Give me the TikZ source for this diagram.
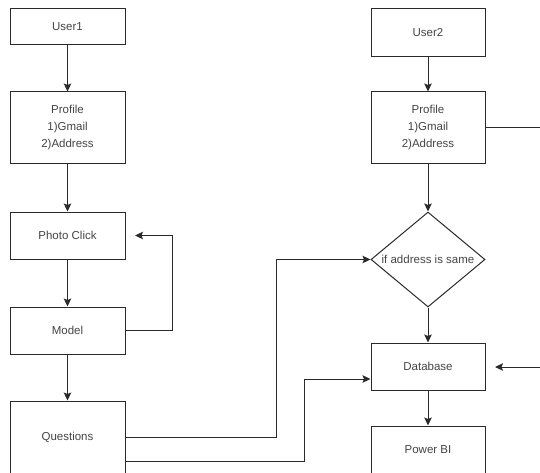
\documentclass[tikz,border=0pt]{standalone}
\usepackage{fontspec}
\setmainfont{Liberation Sans}
\usetikzlibrary{shapes.geometric,arrows.meta,calc}
\definecolor{ln}{HTML}{2A2A2A}
\definecolor{tx}{HTML}{444444}
\tikzset{
  box/.style={draw=ln, line width=1pt, rectangle, minimum width=115pt, inner sep=0pt, align=center, text=tx, font=\fontsize{11.5}{17}\selectfont},
  dia/.style={draw=ln, line width=1pt, diamond, shape aspect=1.2, minimum width=114pt, minimum height=95pt, inner sep=0pt, text=tx, font=\fontsize{11.5}{14}\selectfont},
  conn/.style={draw=ln, line width=1pt, -{Stealth[length=8pt,width=7.5pt,inset=1.5pt]}},
  plain/.style={draw=ln, line width=1pt}
}
\begin{document}
\begin{tikzpicture}[x=1pt,y=-1pt]
\useasboundingbox (0,0) rectangle (540,473);
% left column
\node[box, minimum height=36pt] (u1) at (67.5,27) {User1};
\node[box, minimum height=72pt] (p1) at (67.5,128) {Profile\\1)Gmail\\2)Address};
\node[box, minimum height=47pt] (pc) at (67.5,235.5) {Photo Click};
\node[box, minimum height=47pt] (m) at (67.5,330.5) {Model};
\node[box, minimum height=73pt] (q) at (67.5,437.5) {Questions};
% right column
\node[box, minimum height=48pt, minimum width=114pt] (u2) at (428,33) {User2};
\node[box, minimum height=72pt, minimum width=114pt] (p2) at (428,128) {Profile\\1)Gmail\\2)Address};
\node[dia] (d) at (428,259.5) {if address is same};
\node[box, minimum height=47pt, minimum width=114pt] (db) at (428,366.5) {Database};
\node[box, minimum height=48pt, minimum width=114pt] (pbi) at (428,450) {Power BI};
% free ends
\coordinate (pcin) at (135,235.5);
\coordinate (p2out) at (541,128);
\coordinate (dbsrc) at (541,367);
\coordinate (dbin) at (495,367);
% left connectors
\draw[conn] (u1) -- (p1);
\draw[conn] (p1) -- (pc);
\draw[conn] (pc) -- (m);
\draw[conn] (m) -- (q);
\draw[conn] (m.east) -- (172,330.5) |- (pcin);
% right connectors
\draw[conn] (u2) -- (p2);
\draw[conn] (p2) -- (d);
\draw[conn] (d) -- (db);
\draw[conn] (db) -- (pbi);
\draw[plain] (p2.east) -- (p2out);
\draw[conn] (dbsrc) -- (dbin);
% cross connectors
\draw[conn] (q.east |- 0,437) -- (276,437) |- (d.west);
\draw[conn] (q.east |- 0,461) -- (304,461) |- ($(db.west)+(0,12.5)$);
\end{tikzpicture}
\end{document}
